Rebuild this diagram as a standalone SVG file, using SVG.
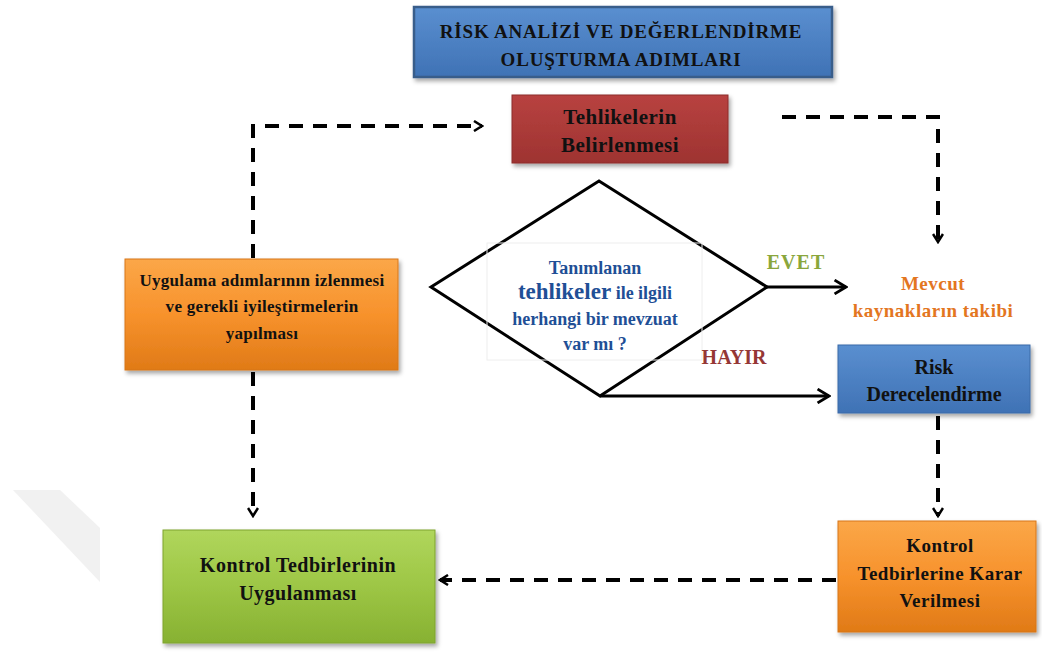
<svg xmlns="http://www.w3.org/2000/svg" width="1042" height="652" viewBox="0 0 1042 652">
<defs>
<style>
.t{font-family:"Liberation Serif","Times New Roman",serif;font-weight:bold;fill:#111;text-anchor:middle}
.q{font-family:"Liberation Serif","Times New Roman",serif;font-weight:bold;fill:#1f4f96;text-anchor:middle}
.dash{fill:none;stroke:#000;stroke-width:4;stroke-dasharray:14,10}
.solid{fill:none;stroke:#000;stroke-width:3}
</style>
<linearGradient id="gBlue" x1="0" y1="0" x2="0" y2="1"><stop offset="0" stop-color="#5a8fd0"/><stop offset="1" stop-color="#3f72b5"/></linearGradient>
<linearGradient id="gRed" x1="0" y1="0" x2="0" y2="1"><stop offset="0" stop-color="#b84240"/><stop offset="1" stop-color="#9e3331"/></linearGradient>
<linearGradient id="gOrange" x1="0" y1="0" x2="0" y2="1"><stop offset="0" stop-color="#fba748"/><stop offset="0.5" stop-color="#f7922c"/><stop offset="1" stop-color="#e07a17"/></linearGradient>
<linearGradient id="gGreen" x1="0" y1="0" x2="0" y2="1"><stop offset="0" stop-color="#b0d65c"/><stop offset="0.5" stop-color="#9dc645"/><stop offset="1" stop-color="#87b132"/></linearGradient>
<filter id="sh" x="-10%" y="-10%" width="125%" height="130%"><feDropShadow dx="2" dy="3" stdDeviation="2" flood-color="#000" flood-opacity="0.35"/></filter>
<marker id="ah" viewBox="0 0 12 12" refX="10" refY="6" markerWidth="12" markerHeight="12" markerUnits="userSpaceOnUse" orient="auto"><path d="M2,1 L10,6 L2,11" fill="none" stroke="#000" stroke-width="2.5"/></marker>
<marker id="ahs" viewBox="0 0 14 14" refX="12" refY="7" markerWidth="16" markerHeight="16" markerUnits="userSpaceOnUse" orient="auto"><path d="M2,1 L12,7 L2,13" fill="none" stroke="#000" stroke-width="2.5"/></marker>
</defs>
<rect width="1042" height="652" fill="#fff"/>
<polygon points="13,490 60,490 100,528 100,582" fill="#f1f1f1"/>
<g id="connectors">
<path class="dash" d="M253,258 V126 H482" marker-end="url(#ah)"/>
<path class="dash" d="M782,117 H938 V242" marker-end="url(#ah)"/>
<path class="dash" d="M253,372 V516" marker-end="url(#ah)"/>
<path class="dash" d="M938,416 V516" marker-end="url(#ah)"/>
<path class="dash" d="M836,580 H440" marker-end="url(#ah)"/>
<path class="solid" d="M767,287 H846" marker-end="url(#ahs)"/>
<path class="solid" d="M600,396 H829" marker-end="url(#ahs)"/>
</g>
<g id="title">
<rect x="414" y="7" width="418" height="70" fill="url(#gBlue)" stroke="#385d8a" stroke-width="2.5" filter="url(#sh)"/>
<text class="t" x="621" y="38" font-size="19" letter-spacing="0.8">RİSK ANALİZİ VE DEĞERLENDİRME</text>
<text class="t" x="621" y="66" font-size="19" letter-spacing="0.8">OLUŞTURMA  ADIMLARI</text>
</g>
<g id="tehlike">
<rect x="512" y="95" width="216" height="68" fill="url(#gRed)" stroke="#8c2d2b" stroke-width="1" filter="url(#sh)"/>
<text class="t" x="620" y="124" font-size="21" letter-spacing="0.5">Tehlikelerin</text>
<text class="t" x="620" y="152" font-size="21" letter-spacing="0.5">Belirlenmesi</text>
</g>
<g id="decision">
<polygon points="599,181 767,287 600,396 431,287" fill="#fff" stroke="#000" stroke-width="3"/>
<rect x="487" y="243" width="215" height="117" fill="none" stroke="#eeeeee" stroke-width="1"/>
<text class="q" x="595" y="274" font-size="18">Tanımlanan</text>
<text class="q" x="595" y="299" font-size="18"><tspan font-size="23">tehlikeler</tspan> ile ilgili</text>
<text class="q" x="595" y="325" font-size="18">herhangi bir mevzuat</text>
<text class="q" x="595" y="350" font-size="18">var mı ?</text>
</g>
<g id="evet">
<text x="796" y="269" font-family="Liberation Serif, serif" font-weight="bold" font-size="20" letter-spacing="1" fill="#8aa63c" text-anchor="middle">EVET</text>
</g>
<g id="hayir">
<text x="734" y="364" font-family="Liberation Serif, serif" font-weight="bold" font-size="20" fill="#953735" text-anchor="middle">HAYIR</text>
</g>
<g id="mevcut">
<text x="933" y="290" font-family="Liberation Serif, serif" font-weight="bold" font-size="19" letter-spacing="0.5" fill="#e3761f" text-anchor="middle">Mevcut</text>
<text x="933" y="317" font-family="Liberation Serif, serif" font-weight="bold" font-size="19" letter-spacing="0.5" fill="#e3761f" text-anchor="middle">kaynakların takibi</text>
</g>
<g id="risk">
<rect x="838" y="345" width="192" height="68" fill="url(#gBlue)" stroke="#3a6aa8" stroke-width="1" filter="url(#sh)"/>
<text class="t" x="934" y="374" font-size="20">Risk</text>
<text class="t" x="934" y="401" font-size="20">Derecelendirme</text>
</g>
<g id="karar">
<rect x="838" y="521" width="198" height="111" fill="url(#gOrange)" stroke="#d7761a" stroke-width="1" filter="url(#sh)"/>
<text class="t" x="940" y="552" font-size="19" letter-spacing="0.5">Kontrol</text>
<text class="t" x="940" y="580" font-size="19" letter-spacing="0.5">Tedbirlerine Karar</text>
<text class="t" x="940" y="607" font-size="19" letter-spacing="0.5">Verilmesi</text>
</g>
<g id="uygulanmasi">
<rect x="163" y="530" width="272" height="113" fill="url(#gGreen)" stroke="#7ea32f" stroke-width="1" filter="url(#sh)"/>
<text class="t" x="298" y="572" font-size="20" letter-spacing="0.5">Kontrol Tedbirlerinin</text>
<text class="t" x="298" y="600" font-size="20" letter-spacing="0.5">Uygulanması</text>
</g>
<g id="izleme">
<rect x="125" y="259" width="273" height="111" fill="url(#gOrange)" stroke="#d7761a" stroke-width="1" filter="url(#sh)"/>
<text class="t" x="262" y="286" font-size="17" letter-spacing="0.3">Uygulama adımlarının izlenmesi</text>
<text class="t" x="262" y="312" font-size="17" letter-spacing="0.3">ve gerekli iyileştirmelerin</text>
<text class="t" x="262" y="339" font-size="17" letter-spacing="0.3">yapılması</text>
</g>
</svg>
